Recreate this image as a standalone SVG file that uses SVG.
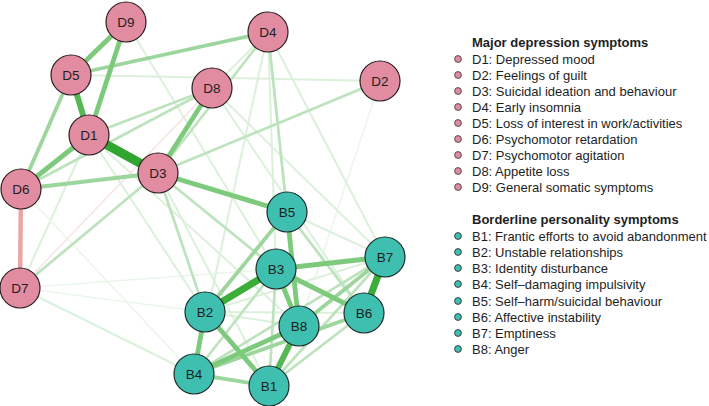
<svg xmlns="http://www.w3.org/2000/svg" width="709" height="406" viewBox="0 0 709 406">
<style>
.bg{fill:#ffffff}
.e{fill:none;stroke-linecap:butt}
.w1{stroke:#30a630;stroke-width:9}
.w2{stroke:#3aad3a;stroke-width:7}
.w3{stroke:#55b855;stroke-width:6}
.w4{stroke:#7dca7d;stroke-width:4.8}
.w5{stroke:#9dd69d;stroke-width:3.8}
.w6{stroke:#bde3bd;stroke-width:2.7}
.w7{stroke:#dcf0dc;stroke-width:2}
.w8{stroke:#ebf6eb;stroke-width:1.5}
.n1{stroke:#eba5a5;stroke-width:4.5}
.n2{stroke:#f7e0e0;stroke-width:1.3}
.d circle{fill:#e28ca2;stroke:#2a1f22;stroke-width:1.2}
.b circle{fill:#3ebfb0;stroke:#1f2a29;stroke-width:1.2}
.lbl{font-family:"Liberation Sans",Arial,sans-serif;font-size:13.5px;fill:#1e1e1e;text-anchor:middle}
.lg{font-family:"Liberation Sans",Arial,sans-serif;font-size:13px;fill:#1e1e1e}
.lgt{font-family:"Liberation Sans",Arial,sans-serif;font-size:13px;font-weight:bold;fill:#1e1e1e}
.bd{fill:#e28ca2;stroke:#444;stroke-width:0.9}
.bb{fill:#3ebfb0;stroke:#333;stroke-width:0.9}
</style>
<rect class="bg" x="0" y="0" width="709" height="406"/>
<g id="connectors">
<line class="e w8" x1="380" y1="81" x2="299" y2="326"/>
<line class="e w7" x1="71" y1="75" x2="380" y2="81"/>
<line class="e w7" x1="268" y1="32" x2="212" y2="88"/>
<line class="e w7" x1="20" y1="288" x2="89" y2="135"/>
<line class="e w7" x1="20" y1="288" x2="194" y2="374"/>
<line class="e w8" x1="20" y1="288" x2="205" y2="312"/>
<line class="e w8" x1="20" y1="288" x2="276" y2="269"/>
<line class="e w7" x1="268" y1="32" x2="194" y2="374"/>
<line class="e w7" x1="268" y1="32" x2="385" y2="257"/>
<line class="e w7" x1="212" y1="88" x2="385" y2="257"/>
<line class="e w7" x1="212" y1="88" x2="364" y2="313"/>
<line class="e w7" x1="89" y1="135" x2="205" y2="312"/>
<line class="e w7" x1="89" y1="135" x2="299" y2="326"/>
<line class="e w8" x1="21" y1="189" x2="194" y2="374"/>
<line class="e w7" x1="126" y1="22" x2="276" y2="269"/>
<line class="e w7" x1="268" y1="32" x2="276" y2="269"/>
<line class="e w7" x1="268" y1="32" x2="299" y2="326"/>
<line class="e w7" x1="158" y1="173" x2="269" y2="386"/>
<line class="e w7" x1="205" y1="312" x2="364" y2="313"/>
<line class="e w7" x1="205" y1="312" x2="299" y2="326"/>
<line class="e w7" x1="287" y1="212" x2="385" y2="257"/>
<line class="e w7" x1="205" y1="312" x2="385" y2="257"/>
<line class="e n2" x1="20" y1="288" x2="212" y2="88"/>
<line class="e w6" x1="89" y1="135" x2="212" y2="88"/>
<line class="e w6" x1="21" y1="189" x2="212" y2="88"/>
<line class="e w6" x1="158" y1="173" x2="380" y2="81"/>
<line class="e w6" x1="268" y1="32" x2="158" y2="173"/>
<line class="e w6" x1="20" y1="288" x2="158" y2="173"/>
<line class="e w6" x1="158" y1="173" x2="205" y2="312"/>
<line class="e w6" x1="158" y1="173" x2="276" y2="269"/>
<line class="e w6" x1="268" y1="32" x2="287" y2="212"/>
<line class="e w6" x1="287" y1="212" x2="364" y2="313"/>
<line class="e w6" x1="269" y1="386" x2="364" y2="313"/>
<line class="e w6" x1="269" y1="386" x2="385" y2="257"/>
<line class="e w6" x1="194" y1="374" x2="276" y2="269"/>
<line class="e w6" x1="269" y1="386" x2="276" y2="269"/>
<line class="e w6" x1="194" y1="374" x2="385" y2="257"/>
<line class="e w5" x1="71" y1="75" x2="21" y2="189"/>
<line class="e w5" x1="21" y1="189" x2="158" y2="173"/>
<line class="e w5" x1="71" y1="75" x2="268" y2="32"/>
<line class="e w5" x1="194" y1="374" x2="364" y2="313"/>
<line class="e w5" x1="194" y1="374" x2="269" y2="386"/>
<line class="e w5" x1="287" y1="212" x2="205" y2="312"/>
<line class="e w5" x1="299" y1="326" x2="385" y2="257"/>
<line class="e w4" x1="89" y1="135" x2="126" y2="22"/>
<line class="e w4" x1="71" y1="75" x2="126" y2="22"/>
<line class="e w4" x1="89" y1="135" x2="21" y2="189"/>
<line class="e w4" x1="158" y1="173" x2="212" y2="88"/>
<line class="e w4" x1="158" y1="173" x2="287" y2="212"/>
<line class="e w4" x1="205" y1="312" x2="194" y2="374"/>
<line class="e w4" x1="205" y1="312" x2="269" y2="386"/>
<line class="e w4" x1="276" y1="269" x2="385" y2="257"/>
<line class="e w4" x1="276" y1="269" x2="364" y2="313"/>
<line class="e w4" x1="287" y1="212" x2="299" y2="326"/>
<line class="e w4" x1="276" y1="269" x2="299" y2="326"/>
<line class="e w4" x1="194" y1="374" x2="299" y2="326"/>
<line class="e w3" x1="89" y1="135" x2="71" y2="75"/>
<line class="e w3" x1="299" y1="326" x2="269" y2="386"/>
<line class="e w2" x1="205" y1="312" x2="276" y2="269"/>
<line class="e w2" x1="385" y1="257" x2="364" y2="313"/>
<line class="e w1" x1="89" y1="135" x2="158" y2="173"/>
<line class="e n1" x1="21" y1="189" x2="20" y2="288"/>
</g>
<g id="D1" class="d"><circle cx="89" cy="135" r="20"/><text class="lbl" x="89" y="139.5">D1</text></g>
<g id="D2" class="d"><circle cx="380" cy="81" r="20"/><text class="lbl" x="380" y="85.5">D2</text></g>
<g id="D3" class="d"><circle cx="158" cy="173" r="20"/><text class="lbl" x="158" y="177.5">D3</text></g>
<g id="D4" class="d"><circle cx="268" cy="32" r="20"/><text class="lbl" x="268" y="36.5">D4</text></g>
<g id="D5" class="d"><circle cx="71" cy="75" r="20"/><text class="lbl" x="71" y="79.5">D5</text></g>
<g id="D6" class="d"><circle cx="21" cy="189" r="20"/><text class="lbl" x="21" y="193.5">D6</text></g>
<g id="D7" class="d"><circle cx="20" cy="288" r="20"/><text class="lbl" x="20" y="292.5">D7</text></g>
<g id="D8" class="d"><circle cx="212" cy="88" r="20"/><text class="lbl" x="212" y="92.5">D8</text></g>
<g id="D9" class="d"><circle cx="126" cy="22" r="20"/><text class="lbl" x="126" y="26.5">D9</text></g>
<g id="B1" class="b"><circle cx="269" cy="386" r="20"/><text class="lbl" x="269" y="390.5">B1</text></g>
<g id="B2" class="b"><circle cx="205" cy="312" r="20"/><text class="lbl" x="205" y="316.5">B2</text></g>
<g id="B3" class="b"><circle cx="276" cy="269" r="20"/><text class="lbl" x="276" y="273.5">B3</text></g>
<g id="B4" class="b"><circle cx="194" cy="374" r="20"/><text class="lbl" x="194" y="378.5">B4</text></g>
<g id="B5" class="b"><circle cx="287" cy="212" r="20"/><text class="lbl" x="287" y="216.5">B5</text></g>
<g id="B6" class="b"><circle cx="364" cy="313" r="20"/><text class="lbl" x="364" y="317.5">B6</text></g>
<g id="B7" class="b"><circle cx="385" cy="257" r="20"/><text class="lbl" x="385" y="261.5">B7</text></g>
<g id="B8" class="b"><circle cx="299" cy="326" r="20"/><text class="lbl" x="299" y="330.5">B8</text></g>
<g id="legend">
<text class="lgt" x="472" y="47">Major depression symptoms</text>
<circle class="bd" cx="458" cy="59" r="3.4"/><text class="lg" x="472" y="63.5">D1: Depressed mood</text>
<circle class="bd" cx="458" cy="75" r="3.4"/><text class="lg" x="472" y="79.5">D2: Feelings of guilt</text>
<circle class="bd" cx="458" cy="91" r="3.4"/><text class="lg" x="472" y="95.5">D3: Suicidal ideation and behaviour</text>
<circle class="bd" cx="458" cy="107" r="3.4"/><text class="lg" x="472" y="111.5">D4: Early insomnia</text>
<circle class="bd" cx="458" cy="123" r="3.4"/><text class="lg" x="472" y="127.5">D5: Loss of interest in work/activities</text>
<circle class="bd" cx="458" cy="139" r="3.4"/><text class="lg" x="472" y="143.5">D6: Psychomotor retardation</text>
<circle class="bd" cx="458" cy="155" r="3.4"/><text class="lg" x="472" y="159.5">D7: Psychomotor agitation</text>
<circle class="bd" cx="458" cy="171" r="3.4"/><text class="lg" x="472" y="175.5">D8: Appetite loss</text>
<circle class="bd" cx="458" cy="187" r="3.4"/><text class="lg" x="472" y="191.5">D9: General somatic symptoms</text>
<text class="lgt" x="472" y="224">Borderline personality symptoms</text>
<circle class="bb" cx="458" cy="236" r="3.4"/><text class="lg" x="472" y="240.5">B1: Frantic efforts to avoid abandonment</text>
<circle class="bb" cx="458" cy="252" r="3.4"/><text class="lg" x="472" y="256.5">B2: Unstable relationships</text>
<circle class="bb" cx="458" cy="268" r="3.4"/><text class="lg" x="472" y="272.5">B3: Identity disturbance</text>
<circle class="bb" cx="458" cy="284" r="3.4"/><text class="lg" x="472" y="288.5">B4: Self&#8211;damaging impulsivity</text>
<circle class="bb" cx="458" cy="301" r="3.4"/><text class="lg" x="472" y="305.5">B5: Self&#8211;harm/suicidal behaviour</text>
<circle class="bb" cx="458" cy="317" r="3.4"/><text class="lg" x="472" y="321.5">B6: Affective instability</text>
<circle class="bb" cx="458" cy="333" r="3.4"/><text class="lg" x="472" y="337.5">B7: Emptiness</text>
<circle class="bb" cx="458" cy="349" r="3.4"/><text class="lg" x="472" y="353.5">B8: Anger</text>
</g>
</svg>
